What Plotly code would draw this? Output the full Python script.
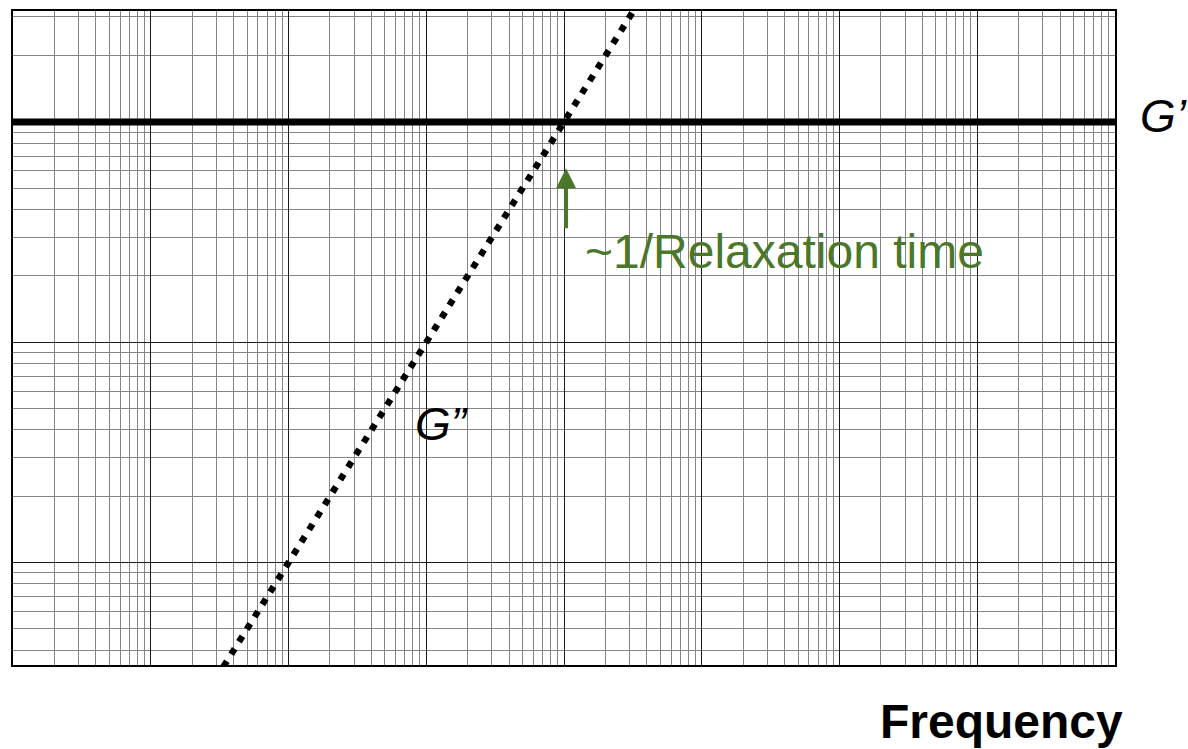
import plotly.graph_objects as go

# Oscillatory rheology of a simple viscoelastic solid, log-log axes
frequency = [1e-3, 1e-2, 1e-1, 1e0, 1e1, 1e2, 1e3, 1e4, 1e5]       # rad/s
storage_modulus = [1000, 1000, 1000, 1000, 1000, 1000, 1000, 1000, 1000]  # G'  (Pa)
loss_modulus = [0.1, 1, 10, 100, 1000, 10000, 100000, 1e6, 1e7]    # G'' (Pa)

freq_decades = [1e-3, 1e-2, 1e-1, 1e0, 1e1, 1e2, 1e3, 1e4, 1e5]
modulus_decades = [1, 10, 100, 1000, 10000]
mantissas = [2, 3, 4, 5, 6, 7, 8, 9]

GREEN = "#4a7729"
FONT = "Liberation Sans, Arial, Helvetica, sans-serif"

freq_minor = [m * d for d in freq_decades for m in mantissas]
mod_minor = [m * d for d in modulus_decades for m in mantissas]

fig = go.Figure()

fig.add_trace(go.Scatter(
    x=frequency, y=storage_modulus, mode="lines",
    line=dict(color="black", width=7),
    showlegend=False, hoverinfo="skip",
))
fig.add_trace(go.Scatter(
    x=frequency, y=loss_modulus, mode="lines",
    line=dict(color="black", width=6.5, dash="6.5px,8.2px"),
    showlegend=False, hoverinfo="skip",
))

axis_common = dict(
    type="log",
    tickmode="array",
    showticklabels=False,
    ticks="",
    showgrid=True,
    gridcolor="#1a1a1a",
    gridwidth=1,
    zeroline=False,
    showline=True,
    mirror=True,
    linecolor="black",
    linewidth=2,
)

minor_grid = dict(showgrid=True, gridcolor="#858585", gridwidth=1, ticks="")

fig.update_xaxes(
    **axis_common,
    range=[-3, 5],
    tickvals=freq_decades,
    minor=dict(tickmode="array", tickvals=freq_minor, **minor_grid),
)
fig.update_yaxes(
    **axis_common,
    range=[0.5353, 3.5036],
    tickvals=modulus_decades,
    minor=dict(tickmode="array", tickvals=mod_minor, **minor_grid),
)

annotations = [
    # arrow marking the crossover frequency (~1/relaxation time)
    dict(x=1.015, y=2.79, xref="x", yref="y",
         ax=1.015, ay=2.511, axref="x", ayref="y",
         showarrow=True, arrowhead=2, arrowsize=1.0, arrowwidth=4,
         arrowcolor=GREEN, text=""),
    dict(x=1.138, y=2.40, xref="x", yref="y", xanchor="left", yanchor="middle",
         yshift=3,
         text="~1/Relaxation time", showarrow=False,
         font=dict(family=FONT, size=48, color=GREEN)),
    dict(x=1.0209, y=3, xref="paper", yref="y", xanchor="left", yanchor="middle",
         yshift=6,
         text="G\u2019", showarrow=False,
         font=dict(family=FONT, size=46, color="black", style="italic")),
    dict(x=-0.098, y=1.63, xref="x", yref="y", xanchor="left", yanchor="middle",
         text="G\u201d", showarrow=False,
         font=dict(family=FONT, size=46, color="black", style="italic")),
    dict(x=0.785, y=-0.087, xref="paper", yref="paper", xanchor="left", yanchor="middle",
         text="Frequency", showarrow=False,
         font=dict(family=FONT, size=48, color="black", weight="bold")),
]

fig.update_layout(
    width=1188, height=749,
    margin=dict(l=13, r=73, t=9, b=84, pad=0),
    paper_bgcolor="white",
    plot_bgcolor="white",
    annotations=annotations,
    showlegend=False,
)

fig.write_html("out.html")
